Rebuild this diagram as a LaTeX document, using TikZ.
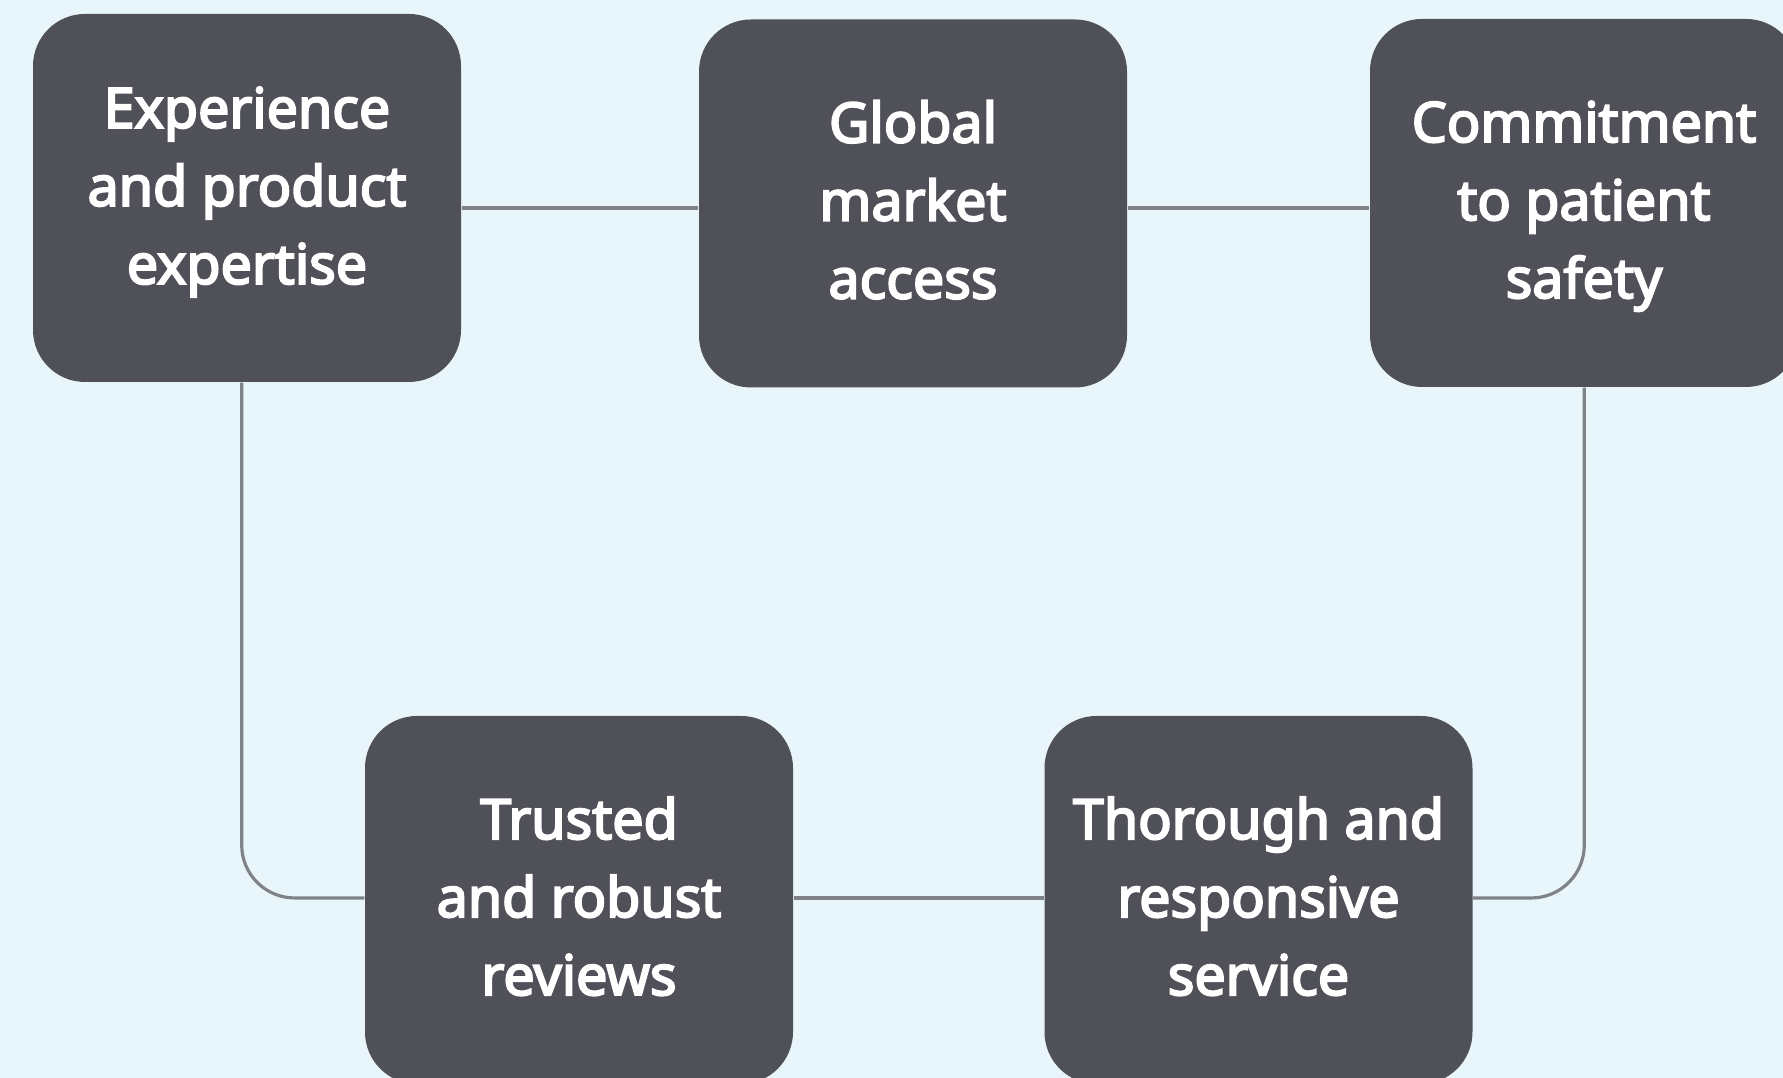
\documentclass[tikz,border=0pt]{standalone}
\usepackage{fontspec}
\setmainfont{Noto Sans}[BoldFont={Noto Sans}, BoldFeatures={FakeBold=3.6}]
\usepackage{tikz}
\usetikzlibrary{calc}
\definecolor{sky}{HTML}{E8F6FC}
\definecolor{slate}{HTML}{505059}
\definecolor{wire}{HTML}{7F8389}
\tikzset{p/.style={fill=slate, rounded corners=5.2mm, minimum width=4.28cm, minimum height=3.68cm, inner sep=0pt, align=center, text=white, text height=54.1pt, text depth=0pt, font=\bfseries\fontsize{15.8}{22.2}\selectfont}}
\tikzset{w/.style={draw=wire, line width=0.9pt}}

\begin{document}
\begin{tikzpicture}
  \fill [sky] (0,0) rectangle (17.83,10.78);
  \useasboundingbox (0,0) rectangle (17.83,10.78);
  % rows and columns of the links
  \coordinate (up) at (0,8.70);
  \coordinate (dn) at (0,1.80);
  \coordinate (lc) at (2.417,0);
  \coordinate (rc) at (15.843,0);
  \node [p, text height=48.9pt] (X) at (2.47,8.80) {Experience\\and product\\expertise};
  \node [p] (G) at (9.13,8.745) {Global\\market\\access};
  \node [p] (C) at (15.84,8.75) {Commitment\\to patient\\safety};
  \node [p] (R) at (5.79,1.78) {Trusted\\and robust\\reviews};
  \node [p] (S) at (12.585,1.78) {Thorough and\\responsive\\service};
  \draw [w] (X.east |- up) -- (G.west |- up);
  \draw [w] (G.east |- up) -- (C.west |- up);
  \draw [w, rounded corners=5.3mm] (X.south -| lc) |- (R.west |- dn);
  \draw [w] (R.east |- dn) -- (S.west |- dn);
  \draw [w, rounded corners=5.3mm] (C.south -| rc) |- (S.east |- dn);
\end{tikzpicture}
\end{document}
